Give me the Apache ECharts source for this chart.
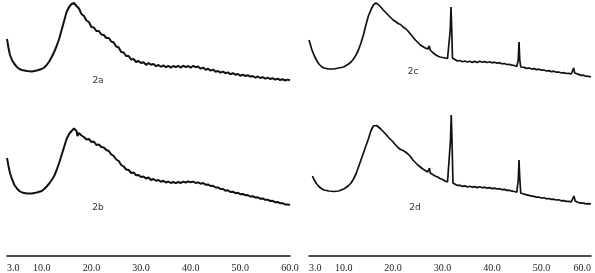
<!DOCTYPE html>
<html><head><meta charset="utf-8">
<script src="https://cdn.jsdelivr.net/npm/echarts@6/dist/echarts.min.js"></script>
<style>html,body{margin:0;padding:0;background:#fff}#c{width:595px;height:273px}</style>
</head><body><div id="c"></div>
<script>
// 2-theta (degrees) tick values and labels
const tickValues = [3, 10, 20, 30, 40, 50, 60];
const tickLabels = ['3.0', '10.0', '20.0', '30.0', '40.0', '50.0', '60.0'];
const panelNames = ['2a', '2b', '2c', '2d'];

// [2theta, intensity (arb.)]
const s2a = [[3,61],[3.3,52],[3.6,45],[4,40],[4.5,36],[5,33],[5.5,31],[6,30],[7,29],[8,28.5],[9,29.5],[10,31],[10.5,32.5],[11,35],[11.5,38.5],[12,43],[12.5,48],[13,54],[13.5,61],[14,70],[14.5,79],[15,88],[15.5,93],[16,96],[16.5,97],
[17,94],[17.5,91.5],[18,86],[18.5,84],[19,79.5],[19.5,78],[20,73],[20.5,72.5],[21,69],[21.5,69],[22,65.5],[22.5,65],[23,62],[23.5,62],[24,58.5],[24.5,57.5],[25,53.5],[25.5,52.5],[26,48],[26.5,47.5],[27,44],[27.5,44],[28,40.5],[28.5,41],[29,38],[29.5,39],[30,37],[30.5,37.8],[31,35.2],[31.5,36.8],[32,35.3],[32.5,36],[33,33.8],[33.5,35],[34,33.2],[34.5,34.6],[35,32.8],[35.5,34.2],[36,32.4],[36.5,34],[37,32.8],[37.5,34.2],[38,32.4],[38.5,34.3],[39,32.8],[39.5,34],[40,32.3],[40.5,34.2],[41,32.8],[41.5,33.5],[42,31.3],[42.5,32.4],[43,30.3],[43.5,31.2],[44,29.4],[44.5,30.4],[45,28.3],[45.5,29],[46,27.3],[46.5,28.4],[47,26.8],[47.5,27.6],[48,25.8],[48.5,26.8],[49,25.3],[49.5,26],[50,24.3],[50.5,25.3],[51,24],[51.5,24.8],[52,23.3],[52.5,24],[53,22.4],[53.5,23.5],[54,22],[54.5,22.9],[55,21.4],[55.5,22.4],[56,21],[56.5,21.8],[57,20.4],[57.5,21.3],[58,20],[58.5,20.8],[59,19.5],[59.5,20.4],[60,19.8]];

const s2b = [[3,52],[3.3,44],[3.6,37],[4,31],[4.5,25],[5,21.5],[5.5,19],[6,17.5],[7,16.5],[8,16.5],[9,17.5],[10,19],[10.5,21],[11,23.5],[11.5,26.5],[12,30],[12.5,34],[13,40],[13.5,47],[14,55],[14.5,63],[15,71],[15.5,76],[16,79],[16.5,81.5],[17,79],[17.2,74],[17.5,77],
[18,74.5],[18.5,73],[19,70.5],[19.5,71],[20,68],[20.5,68.5],[21,65],[21.5,65.5],[22,63],[22.5,62.5],[23,60],[23.5,59],[24,55.5],[24.5,54],[25,50.5],[25.5,49],[26,45],[26.5,43.5],[27,40.5],[27.5,40],[28,37],[28.5,37.5],[29,34.8],[29.5,35],[30,33],[30.5,33.5],[31,31.5],[31.5,32.5],[32,30],[32.5,31],[33,29.2],[33.5,30],[34,28.2],[34.5,29.2],[35,27.5],[35.5,28.5],[36,27],[36.5,28],[37,26.8],[37.5,28],[38,27],[38.5,28.4],[39,27.5],[39.5,28.6],[40,27.8],[40.5,28.4],[41,27],[41.5,27.6],[42,26.3],[42.5,27],[43,25.3],[43.5,25.6],[44,24],[44.5,24.3],[45,22.5],[45.5,22.6],[46,21],[46.5,21],[47,19.3],[47.5,19.8],[48,18],[48.5,18.3],[49,16.8],[49.5,17.2],[50,15.8],[50.5,16],[51,14.8],[51.5,15],[52,13.5],[52.5,13.8],[53,12.5],[53.5,12.7],[54,11.3],[54.5,11.6],[55,10.2],[55.5,10.3],[56,9],[56.5,9.2],[57,7.8],[57.5,8],[58,6.8],[58.5,6.8],[59,5.6],[59.5,5.6],[60,5]];

const s2c = [[3,60],[3.3,55],[3.6,50],[4,45],[4.5,40],[5,36],[5.5,33.5],[6,32],[7,31],[8,31],[9,32],[10,33],[10.5,34.5],[11,36],[11.5,38],[12,41],[12.5,45],[13,50],[13.5,57],[14,65],[14.5,75],[15,84],[15.5,90],[16,95],[16.5,97],[17,95.5],[17.5,93],[18,90],[18.5,87.5],[19,85],[19.5,82.5],[20,80],[20.5,78.5],[21,76.5],[21.5,75.5],[22,73],[22.5,71.5],[23,69],[23.5,66],[24,63],[24.5,60],[25,57.5],[25.5,55],[26,53.5],[26.5,52],[27,51],[27.3,54],[27.5,50],[28,47.5],[28.5,45.5],[29,44],[29.5,43],[30,42.5],[30.5,42],[31,41.5],[31.4,42],[31.55,70],[31.7,93],[31.85,70],[32,42],[32.3,40],[32.5,40.5],[33,39],[33.5,39.5],[34,38.3],[34.5,39],[35,38],[35.5,38.8],[36,37.6],[36.5,38.6],[37,37.5],[37.5,38.8],[38,37.7],[38.5,38.4],[39,37.5],[39.5,38.2],[40,37.2],[40.5,37.8],[41,36.8],[41.5,37.3],[42,36.2],[42.5,36.5],[43,35.5],[43.5,35.6],[44,34.8],[44.5,34.5],[45,33.5],[45.3,40],[45.45,58],[45.6,40],[45.8,33],[46,32.5],[46.5,32.6],[47,31.6],[47.5,32],[48,31],[48.5,31.4],[49,30.4],[49.5,30.8],[50,29.8],[50.5,30],[51,29],[51.5,29.4],[52,28.3],[52.5,28.8],[53,27.8],[53.5,28],[54,27],[54.5,27.4],[55,26.5],[55.5,26.6],[56,26],[56.3,27],[56.5,32],[56.7,27],[57,25.4],[57.5,25.6],[58,24.6],[58.5,24.8],[59,23.8],[59.5,23.6],[60,23]];

const s2d = [[3.7,34],[4,30.5],[4.5,26.5],[5,23.5],[5.5,21.5],[6,20],[7,19],[8,18.5],[9,19],[10,21],[10.5,22.5],[11,24.5],[11.5,27],[12,31],[12.5,36],[13,43],[13.5,50],[14,57],[14.5,64],[15,71],[15.5,79],[16,84],[16.3,85.5],[16.7,84.5],[17,83.5],[17.5,81],[18,78.5],[18.5,76],[19,73],[19.5,70.5],[20,68],[20.5,65],[21,62.5],[21.5,60.5],[22,59.5],[22.5,58],[23,56],[23.5,53.5],[24,50],[24.5,47.5],[25,45],[25.5,43],[26,41],[26.5,39.5],[27,38],[27.2,37.5],[27.35,42],[27.5,37],[28,35.5],[28.5,34],[29,33],[29.5,31.5],[30,30.5],[30.5,29],[31,28],[31.4,27.5],[31.6,70],[31.75,95],[31.9,70],[32.1,27],[32.4,25],[33,24.5],[33.5,24.8],[34,23.6],[34.5,24.2],[35,23],[35.5,23.8],[36,22.8],[36.5,23.4],[37,22.4],[37.5,23.2],[38,22.2],[38.5,22.8],[39,21.8],[39.5,22.4],[40,21.4],[40.5,21.9],[41,21],[41.5,21.3],[42,20.4],[42.5,20.6],[43,19.6],[43.5,19.8],[44,18.8],[44.5,18.5],[45,17.8],[45.3,30],[45.45,50],[45.6,32],[45.8,17],[46,17.5],[46.5,15.8],[47,15.2],[47.5,14.6],[48,13.8],[48.5,13.6],[49,12.8],[49.5,12.8],[50,12],[50.5,12.2],[51,11.2],[51.5,11.5],[52,10.6],[52.5,10.8],[53,10],[53.5,10.2],[54,9.2],[54.5,9.4],[55,8.6],[55.5,8.6],[56,8.2],[56.3,9.5],[56.55,14],[56.8,9],[57,7.5],[57.5,7.4],[58,6.8],[58.5,6.8],[59,6.2],[59.5,6.4],[60,6]];

const chart = echarts.init(document.getElementById('c'), null, {renderer: 'canvas'});
const grids = [
  {left: 7, top: 0, width: 283, height: 100, outerBoundsMode: 'none'},
  {left: 7, top: 110, width: 283, height: 146, outerBoundsMode: 'none'},
  {left: 309, top: 0, width: 282, height: 100, outerBoundsMode: 'none'},
  {left: 309, top: 110, width: 282, height: 146, outerBoundsMode: 'none'}
];
const bottomAxis = (i, alignMax) => ({
  type: 'value', gridIndex: i, min: 3, max: 60, show: true, position: 'bottom',
  axisLine: {show: true, onZero: false, lineStyle: {color: '#111', width: 1.5}},
  axisTick: {show: false},
  splitLine: {show: false},
  axisLabel: {
    show: true, customValues: tickValues, margin: 7,
    formatter: (v) => tickLabels[tickValues.indexOf(v)],
    fontFamily: 'Liberation Serif', fontSize: 10, color: '#222',
    showMinLabel: true, showMaxLabel: true, hideOverlap: false,
    alignMinLabel: 'left', alignMaxLabel: alignMax
  }
});
const topAxis = (i) => ({type: 'value', gridIndex: i, min: 3, max: 60, show: false});
const xAxes = [topAxis(0), bottomAxis(1, 'center'), topAxis(2), bottomAxis(3, 'right')];
const yAxes = [
  {type: 'value', gridIndex: 0, min: 0, max: 100, show: false},
  {type: 'value', gridIndex: 1, min: -46, max: 100, show: false},
  {type: 'value', gridIndex: 2, min: 0, max: 100, show: false},
  {type: 'value', gridIndex: 3, min: -46, max: 100, show: false}
];
const mk = (data, i, w) => ({
  type: 'line', data: data, xAxisIndex: i, yAxisIndex: i,
  showSymbol: false, symbol: 'none', smooth: false,
  lineStyle: {color: '#111', width: w}, silent: true
});
const lbl = (t, x, y) => ({type: 'text', x: x, y: y, style: {text: t, font: '9px "DejaVu Sans"', fill: '#333', align: 'center'}});
chart.setOption({
  animation: false,
  backgroundColor: '#fff',
  grid: grids, xAxis: xAxes, yAxis: yAxes,
  series: [mk(s2a, 0, 2), mk(s2b, 1, 2), mk(s2c, 2, 1.7), mk(s2d, 3, 1.7)],
  graphic: [
    lbl(panelNames[0], 98, 76),
    lbl(panelNames[1], 98, 203),
    lbl(panelNames[2], 413, 67),
    lbl(panelNames[3], 415, 203)
  ]
});
</script></body></html>
